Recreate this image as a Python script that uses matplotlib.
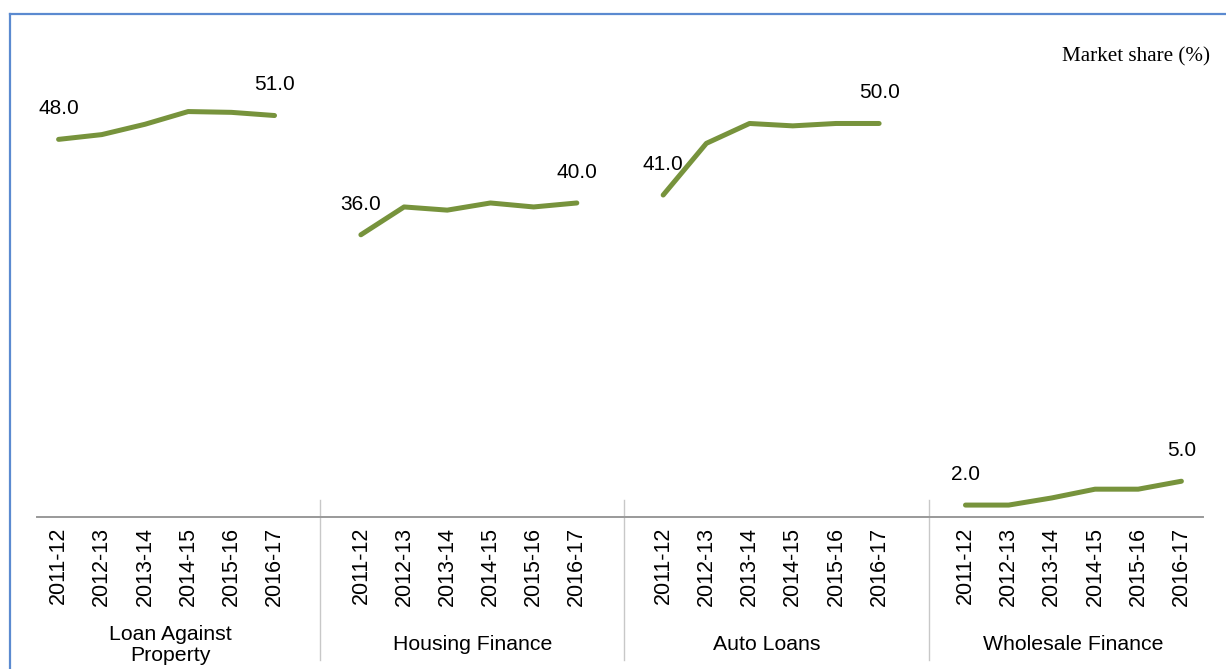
import matplotlib
matplotlib.use("Agg")
import matplotlib.pyplot as plt
import matplotlib.transforms as mtransforms
from matplotlib.lines import Line2D

# ---- data ----
groups = ["Loan Against\nProperty", "Housing Finance", "Auto Loans", "Wholesale Finance"]
years = ["2011-12", "2012-13", "2013-14", "2014-15", "2015-16", "2016-17"]
loan_against_property = [48.0, 48.6, 49.9, 51.5, 51.4, 51.0]
housing_finance = [36.0, 39.5, 39.1, 40.0, 39.5, 40.0]
auto_loans = [41.0, 47.5, 50.0, 49.7, 50.0, 50.0]
wholesale_finance = [2.0, 2.0, 2.9, 4.0, 4.0, 5.0]
series = [loan_against_property, housing_finance, auto_loans, wholesale_finance]
unit_label = "Market share (%)"

W, H = 1226, 669
fig = plt.figure(figsize=(W / 100, H / 100), dpi=100)
fig.patch.set_facecolor("white")

# figure border (blue), only left and top visible
border_c = "#5B8AD0"
fig.add_artist(Line2D([10 / W, 10 / W], [0, 1 - 14 / H], color=border_c, lw=1.6, transform=fig.transFigure))
fig.add_artist(Line2D([10 / W, 1], [1 - 14 / H, 1 - 14 / H], color=border_c, lw=1.6, transform=fig.transFigure))

left_px, right_px, top_px, bot_px = 37, 1203, 40, 517
ax = fig.add_axes([left_px / W, 1 - bot_px / H, (right_px - left_px) / W, (bot_px - top_px) / H])
ax.set_xlim(-0.5, 26.5)
ax.set_ylim(0.5, 60.5)

line_c = "#77933C"
n = len(years)
tick_pos, tick_lab = [], []
for g, vals in enumerate(series):
    xs = [g * (n + 1) + i for i in range(n)]
    ax.plot(xs, vals, color=line_c, lw=3.6, solid_capstyle="round", solid_joinstyle="round", clip_on=False)
    for idx in (0, n - 1):
        ax.annotate(f"{vals[idx]:.1f}", (xs[idx], vals[idx]), xytext=(0, 22), textcoords="offset points",
                    ha="center", va="center", fontsize=15, family="Liberation Sans", color="black")
    tick_pos += xs
    tick_lab += years

ax.set_xticks(tick_pos)
ax.set_xticklabels(tick_lab, rotation=90, fontsize=15.5, family="Liberation Sans", va="top")
ax.tick_params(axis="x", length=0, pad=7)
ax.set_yticks([])
for s in ("left", "right", "top"):
    ax.spines[s].set_visible(False)
ax.spines["bottom"].set_color("#999999")
ax.spines["bottom"].set_linewidth(1.4)

trans = mtransforms.blended_transform_factory(ax.transData, ax.transAxes)
axh = bot_px - top_px
for sx in (6.05, 13.1, 20.15):
    ax.add_line(Line2D([sx, sx], [(bot_px - 500) / axh, (bot_px - 660) / axh], color="#C8C8C8", lw=1.0,
                       transform=trans, clip_on=False))

centers = [2.6, 9.6, 16.4, 23.5]
for g, name in enumerate(groups):
    ax.text(centers[g], (bot_px - 645) / axh, name, transform=trans, ha="center", va="center",
            fontsize=15.3, family="Liberation Sans", linespacing=1.1)

fig.text(1210 / W, 1 - 57 / H, unit_label, ha="right", va="center", fontsize=15.2, family="Liberation Serif")

fig.savefig("out.png", dpi=100)
